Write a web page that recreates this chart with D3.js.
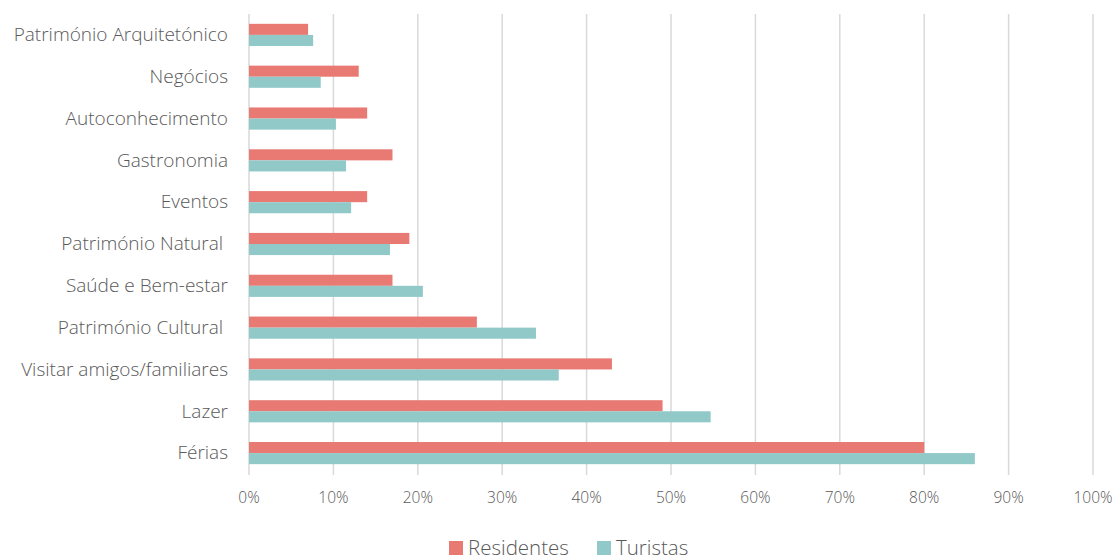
<!DOCTYPE html>
<html>
<head>
<meta charset="utf-8">
<script src="https://cdn.jsdelivr.net/npm/d3@7"></script>
<style>
  body { margin: 0; background: #fff; }
  text { font-family: "Open Sans", "Liberation Sans", sans-serif; font-weight: 300; fill: #595959; white-space: pre; }
</style>
</head>
<body>
<div id="chart"></div>
<script>
// data
var categories = ["Património Arquitetónico", "Negócios", "Autoconhecimento", "Gastronomia", "Eventos",
    "Património Natural ", "Saúde e Bem-estar", "Património Cultural ", "Visitar amigos/familiares", "Lazer", "Férias"];
var residentes = [7, 13, 14, 17, 14, 19, 17, 27, 43, 49, 80];
var turistas = [7.6, 8.5, 10.3, 11.5, 12.1, 16.7, 20.6, 34, 36.7, 54.7, 86];
var seriesNames = ["Residentes", "Turistas"];
var ticks = [0, 10, 20, 30, 40, 50, 60, 70, 80, 90, 100];

var w = 1116, h = 559;
var colors = ["#E87A73", "#91C9C9"];

var svg = d3.select("#chart").append("svg")
    .attr("width", w)
    .attr("height", h);

var x = d3.scaleLinear().domain([0, 100]).range([249, 1093]);
var y = d3.scaleBand().domain(categories).range([14, 474]).paddingInner(0.47).paddingOuter(0.235);
var ySub = d3.scaleBand().domain(seriesNames).range([0, y.bandwidth()]);

// gridlines
svg.append("g").selectAll("line")
    .data(ticks).enter()
    .append("line")
    .attr("x1", function(d) { return x(d); })
    .attr("x2", function(d) { return x(d); })
    .attr("y1", 14)
    .attr("y2", 475)
    .attr("stroke", "#d9d9d9")
    .attr("stroke-width", 1.5);

// bars
var rows = categories.map(function(c, i) {
    return { cat: c, values: [residentes[i], turistas[i]] };
});

var g = svg.append("g").selectAll("g")
    .data(rows).enter()
    .append("g")
    .attr("transform", function(d) { return "translate(0," + y(d.cat) + ")"; });

g.selectAll("rect")
    .data(function(d) { return d.values.map(function(v, j) { return { name: seriesNames[j], v: v, j: j }; }); })
    .enter()
    .append("rect")
    .attr("x", x(0))
    .attr("y", function(d) { return ySub(d.name); })
    .attr("width", function(d) { return x(d.v) - x(0); })
    .attr("height", ySub.bandwidth())
    .attr("fill", function(d) { return colors[d.j]; });

// category labels
svg.append("g").selectAll("text")
    .data(categories).enter()
    .append("text")
    .attr("x", 228)
    .attr("y", function(d) { return y(d) + y.bandwidth() / 2; })
    .attr("dy", "0.33em")
    .attr("text-anchor", "end")
    .style("font-size", "19px")
    .text(function(d) { return d; });

// tick labels
svg.append("g").selectAll("text")
    .data(ticks).enter()
    .append("text")
    .attr("x", function(d) { return x(d); })
    .attr("y", 503)
    .attr("text-anchor", "middle")
    .style("font-size", "15.5px")
    .text(function(d) { return d + "%"; });

// legend
var legendX = [449, 597];
var legend = svg.append("g").selectAll("g")
    .data(seriesNames).enter()
    .append("g")
    .attr("transform", function(d, i) { return "translate(" + legendX[i] + ",541)"; });

legend.append("rect")
    .attr("width", 14)
    .attr("height", 14)
    .attr("fill", function(d, i) { return colors[i]; });

legend.append("text")
    .attr("x", 19)
    .attr("y", 13.5)
    .style("font-size", "20.5px")
    .text(function(d) { return d; });
</script>
</body>
</html>
